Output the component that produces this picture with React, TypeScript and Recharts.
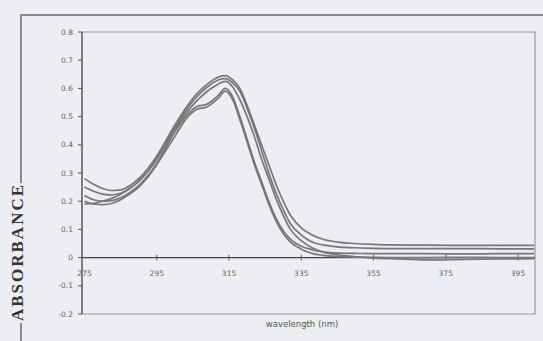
import React from 'react';
import { LineChart, Line, XAxis, YAxis, ReferenceLine, ReferenceArea } from 'recharts';

// wavelength grid (nm)
const wavelengths = [
  275, 277.5, 280, 282.5, 285, 287.5, 290, 292.5, 295, 297.5, 300, 303, 306, 309, 312, 314, 316, 318,
  320, 322, 324, 326, 328, 330, 332, 335, 338, 341, 345, 350, 355, 360, 370, 380, 390, 399.5,
];

// absorbance of the five spectra
const spectrum1 = [
  0.28, 0.26, 0.245, 0.238, 0.24, 0.255, 0.28, 0.315, 0.36, 0.415, 0.47, 0.53, 0.58, 0.615, 0.64, 0.645, 0.63, 0.6,
  0.54, 0.47, 0.4, 0.33, 0.26, 0.2, 0.15, 0.105, 0.08, 0.065, 0.055, 0.05, 0.047, 0.045, 0.044, 0.043, 0.043, 0.043,
];
const spectrum2 = [
  0.25, 0.235, 0.225, 0.222, 0.228, 0.245, 0.27, 0.305, 0.35, 0.405, 0.46, 0.52, 0.57, 0.605, 0.63, 0.635, 0.62, 0.59,
  0.53, 0.46, 0.38, 0.3, 0.23, 0.17, 0.12, 0.08, 0.055, 0.045, 0.038, 0.035, 0.033, 0.032, 0.032, 0.032, 0.031, 0.031,
];
const spectrum3 = [
  0.22, 0.205, 0.2, 0.202, 0.212, 0.23, 0.255, 0.29, 0.335, 0.39, 0.445, 0.5, 0.535, 0.545, 0.575, 0.6, 0.57, 0.5,
  0.42, 0.34, 0.27, 0.2, 0.14, 0.095, 0.065, 0.04, 0.028, 0.02, 0.016, 0.015, 0.014, 0.014, 0.014, 0.013, 0.014, 0.014,
];
const spectrum4 = [
  0.2, 0.19, 0.188, 0.192, 0.205, 0.225, 0.25, 0.285, 0.33, 0.38, 0.43, 0.49, 0.525, 0.535, 0.565, 0.59, 0.56, 0.49,
  0.41, 0.33, 0.26, 0.19, 0.13, 0.085, 0.055, 0.03, 0.015, 0.008, 0.004, 0.002, 0.001, 0, 0, 0.001, 0, 0,
];
const spectrum5 = [
  0.19, 0.192, 0.2, 0.21, 0.225, 0.245, 0.27, 0.305, 0.35, 0.4, 0.455, 0.51, 0.555, 0.59, 0.615, 0.625, 0.605, 0.56,
  0.5, 0.43, 0.35, 0.28, 0.21, 0.15, 0.1, 0.06, 0.035, 0.02, 0.01, 0.003, -0.002, -0.004, -0.008, -0.006, -0.005, -0.004,
];

const xTicks = [275, 295, 315, 335, 355, 375, 395];
const yTicks = [-0.2, -0.1, 0, 0.1, 0.2, 0.3, 0.4, 0.5, 0.6, 0.7, 0.8];
const xDomain = [274.3, 399.7];
const yDomain = [-0.2, 0.8];

const series = [spectrum1, spectrum2, spectrum3, spectrum4, spectrum5];

const data = wavelengths.map((wl, i) => {
  const row: Record<string, number> = { wl };
  series.forEach((s, k) => { row[`s${k}`] = s[i]; });
  return row;
});

const BG = '#eceef4';
const FONT = '"DejaVu Sans", Verdana, sans-serif';

const XTick = (props: any) => {
  const { x, y, payload } = props;
  // labels sit just under the zero line, like the original Excel chart
  return (
    <text x={x} y={y - 38} textAnchor="middle" fontSize={7.5} fill="#666" fontFamily={FONT}>
      {payload.value}
    </text>
  );
};

const fmtY = (v: number) => (v === 0 ? '0' : v.toFixed(1));

export default function App() {
  return (
    <div style={{ position: 'absolute', left: 0, top: 0, width: 543, height: 341, background: BG, overflow: 'hidden' }}>
      <div style={{
        position: 'absolute', left: 20, top: 14, width: 600, height: 400,
        borderTop: '2px solid #8a8a8a', borderLeft: '2px solid #8a8a8a',
      }} />
      <LineChart width={543} height={341} data={data} margin={{ top: 32, right: 8, left: 20, bottom: 7 }}>
        <ReferenceArea x1={xDomain[0]} x2={xDomain[1]} y1={yDomain[0]} y2={yDomain[1]} fill="none" stroke="#9a9a9a" strokeWidth={1.2} />
        <XAxis
          dataKey="wl"
          type="number"
          domain={xDomain}
          ticks={xTicks}
          allowDataOverflow
          axisLine={false}
          tickLine={false}
          tickSize={0}
          tickMargin={0}
          height={20}
          tick={<XTick />}
        />
        <YAxis
          domain={yDomain}
          ticks={yTicks}
          width={62}
          tickFormatter={fmtY}
          tickSize={4}
          tickMargin={5}
          axisLine={{ stroke: '#555', strokeWidth: 1.2 }}
          tickLine={{ stroke: '#555' }}
          tick={{ fontSize: 7.5, fill: '#666', fontFamily: FONT }}
          allowDataOverflow
        />
        <ReferenceLine y={0} stroke="#444" strokeWidth={1.2} />
        {xTicks.slice(1).map((t) => (
          <ReferenceLine key={t} segment={[{ x: t, y: -0.01 }, { x: t, y: 0.01 }]} stroke="#555" />
        ))}
        {series.map((_, k) => (
          <Line
            key={k}
            dataKey={`s${k}`}
            type="monotone"
            stroke="#777"
            strokeWidth={1.7}
            dot={false}
            isAnimationActive={false}
          />
        ))}
      </LineChart>
      <div style={{
        position: 'absolute', left: 262, top: 319, width: 80, textAlign: 'center',
        fontFamily: FONT, fontSize: 8.5, color: '#555', whiteSpace: 'nowrap',
      }}>
        wavelength (nm)
      </div>
      <div style={{
        position: 'absolute', left: 18, top: 253, transform: 'translate(-50%, -50%) rotate(-90deg)',
        fontFamily: '"Liberation Serif", "Times New Roman", serif', fontWeight: 'bold', fontSize: 17,
        letterSpacing: 2, color: '#333', background: BG, whiteSpace: 'nowrap', lineHeight: '14px', paddingLeft: 2,
      }}>
        ABSORBANCE
      </div>
    </div>
  );
}
